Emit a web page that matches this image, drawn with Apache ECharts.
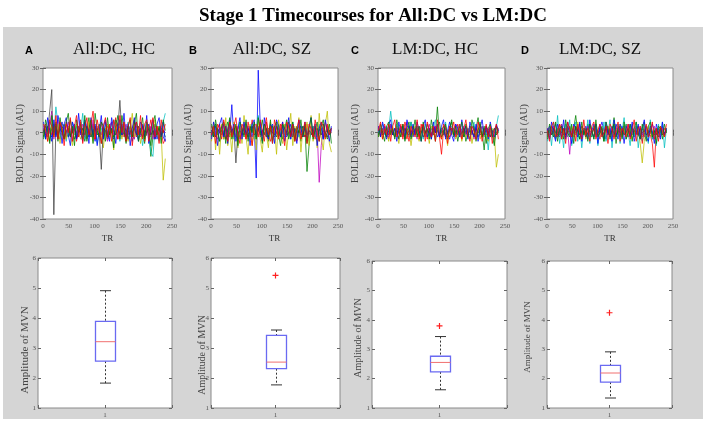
<!DOCTYPE html>
<html><head><meta charset="utf-8">
<script src="https://cdn.jsdelivr.net/npm/echarts@6/dist/echarts.min.js"></script>
<style>html,body{margin:0;padding:0;background:#fff}#c{width:708px;height:423px}</style>
</head><body><div id="c"></div>
<script>
// ---- data ----
const tr = [1,5,9,13,17,21,25,29,33,37,41,45,49,53,57,61,65,69,73,77,81,85,89,93,97,101,105,109,113,117,121,125,129,133,137,141,145,149,153,157,161,165,169,173,177,181,185,189,193,197,201,205,209,213,217,221,225,229,233,237];
const trTicks = [0,50,100,150,200,250];

const tcA = [
 [2,-1,3,0,-2,4,1,-3,2,5,-1,0,3,-2,1,4,-3,0,2,-1,5,1,-2,3,0,-4,2,1,-1,3,6,-2,0,2,-3,1,4,-1,2,0,-2,3,1,-4,2,5,0,-1,3,-2,1,4,-1,0,2,-3,1,3,-2,-4],
 [-2,3,1,-4,2,0,5,-1,-3,2,4,0,-2,6,1,-3,0,3,-1,2,-4,1,7,-2,0,3,-1,4,-5,1,2,-3,0,5,-2,1,8,3,-1,2,-4,0,3,-2,6,1,-3,2,0,-5,3,1,-11,-2,4,0,-3,2,1,-2],
 [1,4,-2,2,-1,3,0,-2,4,1,-3,5,2,-1,0,3,-4,2,6,0,-2,3,1,-1,4,-3,2,0,5,-2,1,3,-1,0,2,7,-3,1,4,-2,0,3,-1,2,5,-2,1,0,3,-4,2,1,6,-1,0,3,-2,1,-5,-3],
 [0,-3,2,5,3,-1,12,4,-2,1,3,-4,2,0,5,-1,3,-2,1,9,-3,2,0,4,-1,3,-5,1,2,-2,4,0,-3,1,6,-1,2,-4,3,0,2,5,-2,1,-3,4,0,2,-6,1,3,-1,-9,-11,2,0,-4,3,5,9],
 [3,0,-2,4,10,-3,2,6,0,-1,3,-2,5,1,-4,2,0,3,-1,4,2,-3,1,0,6,-2,3,1,-1,2,0,-4,3,5,-1,2,0,3,-2,1,4,-1,2,0,-3,3,1,-2,4,0,2,-1,3,-3,1,0,2,-2,1,0],
 [-1,2,-4,1,3,-2,0,4,-5,2,1,-3,3,-1,-6,2,4,0,-3,1,3,-2,5,0,-4,2,-1,3,0,-7,2,4,-2,1,-8,3,0,2,-3,5,1,-4,2,9,-2,0,3,-5,1,-3,4,0,-2,2,6,-1,3,0,-22,-12],
 [1,-2,0,10,20,-38,3,-1,2,0,-3,1,2,-1,0,3,-2,1,0,2,-1,3,0,-2,1,2,-1,0,-17,2,1,-2,3,0,1,-1,2,15,-1,0,2,-3,1,0,2,-1,3,0,-2,1,0,2,-1,1,-3,0,2,-1,1,0],
 [5,-3,7,1,-4,6,-2,8,3,-5,4,7,-1,-6,5,2,-3,9,0,-4,6,3,-5,7,-2,4,-6,1,8,-3,5,0,-4,7,2,-5,3,6,-1,9,-3,4,-6,2,7,0,-4,5,3,-2,8,-5,1,6,-3,4,7,-2,5,-4],
 [-3,6,2,-5,8,-1,4,-4,7,1,-3,5,9,-2,3,-6,6,0,4,-3,8,-4,2,6,-5,9,1,-2,5,3,-4,7,-1,2,-7,6,4,-3,8,1,-5,3,6,-2,4,9,-4,1,7,-3,5,2,-6,4,8,-1,3,-5,6,1],
 [4,1,-4,6,3,-2,8,-3,5,2,-6,4,0,7,-4,3,8,-2,5,-5,2,7,-1,4,10,-3,6,1,-5,3,7,-2,4,-4,6,2,-3,8,0,5,-4,3,7,-6,2,5,-1,8,-3,4,6,-4,2,7,-2,3,-5,6,0,4]
];
const tcB = [
 [1,-2,3,0,2,-1,4,-3,1,0,13,-2,2,1,-3,0,3,-1,2,0,-2,4,-21,29,3,-1,2,0,-3,1,4,-2,0,2,-1,3,1,-2,0,4,-1,2,-3,1,0,3,-2,2,1,-1,0,3,-2,1,2,-3,0,1,-1,2],
 [-2,1,4,-1,0,3,-3,2,5,-2,1,0,3,-4,2,1,-1,4,0,-2,3,1,-3,2,0,6,-1,2,-4,1,3,0,-2,4,1,-3,2,0,5,-1,2,-3,1,0,-4,3,2,-18,-6,1,3,0,-2,2,-1,4,0,-3,1,2],
 [3,0,-2,2,4,-1,1,-3,0,5,2,-1,3,0,-2,1,4,-3,2,0,6,-1,1,3,-2,0,2,7,-1,-4,1,3,0,-2,2,5,-1,0,3,-2,1,2,-4,0,3,1,-2,4,0,-1,2,-3,1,3,0,-2,5,1,-1,0],
 [0,3,-1,2,-4,1,0,4,-2,3,1,-3,0,2,5,-1,3,0,-2,1,4,-3,2,8,0,-1,3,-2,1,0,-5,2,4,-1,0,3,-2,1,2,-3,5,0,1,-2,3,0,-1,2,-4,1,3,0,-2,4,1,-3,0,2,-1,1],
 [-1,2,0,-3,1,3,-2,0,2,4,-1,1,-2,3,0,-1,2,5,-3,0,1,2,-1,3,-2,0,4,1,-3,2,0,-1,3,2,-2,0,1,4,-1,2,0,-3,1,3,0,-2,2,1,-1,3,0,-2,1,-23,-6,2,0,3,-1,1],
 [-4,5,-8,2,-10,4,-3,7,-6,1,-9,5,0,-7,3,-5,8,-2,-10,4,-6,2,-8,6,-3,-9,3,-1,-7,5,-4,2,-10,6,-2,-5,4,-8,1,9,-6,3,-3,7,-9,2,-1,5,-6,8,-4,3,-7,9,-2,-8,4,10,-5,-9],
 [1,0,-2,2,0,1,-1,3,-2,0,1,2,-14,0,1,-1,2,0,-2,1,3,-1,0,2,-1,1,0,-2,2,1,0,-1,3,0,-2,1,2,-1,0,1,-2,2,0,1,-1,0,2,-1,1,0,-2,1,2,0,-1,1,0,-2,1,0],
 [-3,5,1,-6,4,7,-2,3,-5,6,0,4,-4,2,7,-3,5,-1,3,-6,4,6,-2,1,5,-4,7,0,-3,4,2,-5,6,3,-2,5,-4,1,7,-3,4,0,-5,6,2,-2,5,-4,3,7,-1,4,-6,2,5,-3,6,1,-4,3],
 [4,-2,6,0,-4,3,5,-5,2,7,-3,1,4,-6,5,2,-2,6,-4,3,0,5,-3,7,1,-5,4,2,-2,6,-4,3,5,-1,-6,4,2,6,-3,1,5,-4,3,0,6,-2,4,-5,2,7,-3,1,5,-4,3,6,-2,0,4,-5],
 [-1,3,-5,4,2,-3,6,1,-4,5,-2,3,7,-1,-5,4,2,-3,5,0,-6,3,4,-2,6,1,-4,5,-1,3,-5,6,2,-3,4,0,-6,5,3,-2,4,-4,2,6,-3,1,5,-5,4,2,-2,6,0,-4,5,3,-3,4,-1,2]
];
const tcC = [
 [1,-1,2,0,-2,1,3,-1,0,2,-3,1,0,2,-1,3,0,-2,1,2,-1,0,4,-2,1,0,2,-1,3,-2,0,1,-1,2,0,-3,1,2,0,-1,3,1,-2,0,2,1,-1,3,0,-2,1,0,2,-1,0,1,-2,2,0,1],
 [-1,2,0,3,-2,1,4,-1,2,0,-3,3,1,-2,2,0,5,-1,1,3,-2,0,2,-1,4,1,-3,2,0,12,-2,1,3,-1,0,2,5,-2,1,0,3,-1,2,-4,0,3,1,-2,2,7,-1,0,-8,3,1,-2,0,2,-1,1],
 [3,-2,1,4,0,-3,2,1,-1,3,0,-2,4,1,-3,2,0,3,-1,2,-2,4,0,1,-3,2,0,-1,3,2,-2,-10,1,3,0,-2,2,1,-1,4,0,-3,2,1,-2,3,0,2,-1,1,4,-2,0,3,-1,2,1,-3,0,2],
 [0,2,4,-1,3,1,10,2,-2,4,1,-1,3,0,2,-2,5,1,-1,3,0,2,-3,4,1,0,-2,3,6,1,-1,2,0,5,-2,1,3,0,-1,2,4,-2,1,3,0,-1,2,5,-3,1,0,3,-2,1,-8,2,0,-5,3,8],
 [2,0,-1,3,1,-2,4,0,2,-1,1,3,-2,0,5,1,-1,2,0,-3,3,1,2,-1,0,4,-2,1,3,0,-1,2,1,-2,0,3,-1,2,4,0,-2,1,3,-1,0,2,1,-3,2,0,1,3,-1,0,2,-2,1,0,3,1],
 [-2,1,-3,2,0,-4,1,3,-2,0,-5,2,1,-3,0,2,-6,1,3,-1,-4,2,0,-2,1,-5,3,0,-2,2,-1,-3,1,0,-6,2,-1,1,-3,0,2,-4,1,-2,0,3,-5,1,-1,2,-3,0,1,-2,-4,0,2,-1,-16,-10],
 [0,1,-1,0,2,-1,1,0,-2,1,0,1,-1,2,0,-1,1,0,2,-1,0,1,-2,0,1,0,-1,2,0,1,-1,0,1,-2,0,1,2,-1,0,1,-1,0,2,0,-1,1,0,-1,2,0,1,-1,0,1,0,-2,1,0,-1,0],
 [3,-2,5,1,-3,4,6,-1,2,-4,5,0,3,-3,6,2,-2,4,-1,5,1,-4,3,6,-2,2,-3,5,0,4,-2,3,6,-3,1,5,-1,-4,4,2,-2,6,0,3,-3,5,1,-2,4,-4,2,6,-1,3,-3,5,0,-2,4,1],
 [-2,4,0,-4,3,5,-1,2,-3,6,1,-2,4,-4,2,5,-3,1,6,-2,3,-4,5,0,2,-3,6,1,-4,3,5,-2,0,4,-3,2,6,-1,3,-4,1,5,-2,4,0,-3,6,2,-4,1,5,-2,3,-5,2,4,-1,-6,3,0],
 [1,5,-3,2,-1,4,-4,3,6,-2,0,4,-3,5,1,-4,3,0,-2,6,-3,2,4,-4,5,1,-2,3,-4,6,0,-3,4,2,-5,3,1,5,-2,0,4,-3,2,6,-1,-4,3,1,-3,5,2,-4,0,4,-2,3,-5,1,4,-3]
];
const tcD = [
 [1,3,-1,2,4,0,-2,3,1,-1,5,2,0,-2,3,1,4,-1,2,0,3,-2,1,4,0,-1,2,5,1,-3,2,0,3,-1,4,1,-2,3,0,2,-1,4,1,-2,3,0,2,-1,1,3,-2,0,4,1,-1,2,0,3,-2,1],
 [-2,0,3,1,-3,2,-1,4,0,-2,1,3,-1,2,8,0,-3,1,2,-1,4,0,-2,3,1,-1,2,0,-4,3,1,-2,0,7,-1,2,0,-3,1,4,-2,0,2,-1,3,0,-2,1,5,-1,0,2,-3,1,0,-2,3,0,-1,2],
 [2,-1,1,3,0,-2,4,1,-1,2,0,3,-2,1,0,2,-1,3,1,-2,0,4,-1,2,0,1,-3,2,1,0,3,-1,2,-2,1,0,2,-1,3,1,-2,0,2,1,-1,3,0,-2,1,2,0,-1,-5,-16,2,0,1,-1,2,0],
 [-4,2,-6,5,-3,8,-5,1,-7,4,-2,6,-6,0,5,-4,3,-7,2,-1,6,-5,1,-3,4,-6,2,-2,5,-4,0,6,-7,3,-2,4,-5,1,7,-3,0,-6,4,-2,5,-7,1,-4,3,0,-5,6,-3,2,-6,4,-1,5,-7,2],
 [0,2,-1,3,1,-2,0,4,-1,2,1,-10,2,0,-1,3,1,-2,2,0,3,-1,1,2,-2,0,4,1,-1,3,0,-2,2,1,-1,3,0,2,-1,1,4,-2,0,2,1,-1,3,0,-2,1,2,0,-1,3,0,1,-2,2,0,1],
 [1,-2,3,0,-1,2,4,-3,1,0,2,-1,3,-2,0,5,1,-1,2,-3,0,3,1,-2,4,0,-1,2,-3,1,3,0,-2,2,1,-1,4,-2,0,3,-1,2,-3,1,0,2,-5,-14,-4,1,3,0,-2,2,1,-1,3,0,-2,1],
 [0,1,-1,2,0,-1,1,0,2,-1,0,1,-1,0,2,1,-1,0,1,-2,0,1,0,2,-1,0,1,-1,0,2,0,-1,1,0,-2,1,0,1,-1,0,2,0,-1,1,0,-1,2,0,1,-1,0,1,0,-1,1,0,2,-1,0,1],
 [2,-3,5,0,-4,4,1,-2,6,-3,3,0,-5,4,2,-2,5,-4,1,3,-3,6,0,-2,4,-5,3,1,-3,5,-1,2,-4,6,0,-3,4,2,-5,3,1,-2,5,-4,0,4,-3,2,6,-2,-4,3,1,-5,4,0,-3,5,-1,2],
 [-3,4,1,-2,5,-4,2,3,-3,6,0,-2,4,-5,3,1,-3,5,-1,2,-4,4,1,-3,6,-2,0,3,-4,5,2,-3,1,4,-5,2,3,-2,5,-3,0,4,-4,2,5,-1,-3,4,0,-4,3,5,-2,1,-5,3,2,-3,4,0],
 [1,-4,3,5,-2,0,4,-3,2,-5,5,1,-2,3,-4,4,0,-3,6,-1,2,-4,3,5,-3,1,4,-2,0,3,-5,4,2,-3,1,5,-4,2,0,-2,4,-3,1,6,-4,2,3,-5,1,4,-2,0,5,-3,2,-4,3,1,-2,4]
];
// box stats: [low whisker, Q1, median, Q3, high whisker]
const boxA = [1.83, 2.56, 3.21, 3.89, 4.91];
const boxB = [1.77, 2.31, 2.53, 3.42, 3.60];
const boxC = [1.62, 2.23, 2.55, 2.76, 3.43];
const boxD = [1.34, 1.88, 2.19, 2.45, 2.91];
const outA = [];
const outB = [5.42];
const outC = [3.79];
const outD = [4.24];
const letters = ['A','B','C','D'];
const subtitles = ['All:DC, HC','All:DC, SZ','LM:DC, HC','LM:DC, SZ'];
const mainTitle = 'Stage 1 Timecourses for All:DC vs LM:DC';

// ---- layout / style ----
const colors = ['#0000ff','#008000','#ff0000','#00bfbf','#bf00bf','#bfbf00','#404040'];
const lineGrids = [{left:43,width:129},{left:211,width:127},{left:378,width:127},{left:547,width:126}];
const boxGrids = [{left:38,top:258,width:134,height:150},{left:211,top:258,width:129,height:150},{left:372,top:261,width:135,height:147},{left:547,top:261,width:125,height:147}];
const letterX = [29,193,355,525];
const subX = [114,272,435,600];
const ampLabel = [{x:25,y:350,s:11},{x:202,y:355,s:10},{x:358,y:338,s:10},{x:528,y:337,s:9}];
const tcs = [tcA,tcB,tcC,tcD];
const boxes = [boxA,boxB,boxC,boxD];
const outs = [outA,outB,outC,outD];

const serif = 'Liberation Serif';
const tickStyle = {inside:true,length:3,lineStyle:{color:'#666'}};
const lblStyle = {fontSize:7,color:'#555',fontFamily:serif};

const grid=[], xAxis=[], yAxis=[], series=[];
function addAxes(gi, xo, yo, ym){
  xAxis.push(Object.assign({gridIndex:gi,type:'value',axisLine:{show:false},axisTick:tickStyle,axisLabel:Object.assign({margin:4},lblStyle),splitLine:{show:false}},xo));
  xAxis.push({gridIndex:gi,type:'value',position:'top',axisLine:{show:false},axisTick:tickStyle,axisLabel:{show:false},splitLine:{show:false},min:xo.min,max:xo.max,interval:xo.interval});
  yAxis.push(Object.assign({gridIndex:gi,type:'value',axisLine:{show:false},axisTick:tickStyle,axisLabel:Object.assign({margin:ym},lblStyle),splitLine:{show:false}},yo));
  yAxis.push({gridIndex:gi,type:'value',position:'right',axisLine:{show:false},axisTick:tickStyle,axisLabel:{show:false},splitLine:{show:false},min:yo.min,max:yo.max,interval:yo.interval});
}
function renderBox(params, api){
  const x = api.value(0);
  const p = i => api.coord([x, api.value(i)]);
  const lo=p(1), q1=p(2), md=p(3), q3=p(4), hi=p(5);
  const cx = Math.round(lo[0])+0.5, hw=10, cw=5.5;
  const dash = {stroke:'#333',lineWidth:1,lineDash:[2,2]};
  const blk = {stroke:'#333',lineWidth:1};
  return {type:'group',children:[
    {type:'line',shape:{x1:cx,y1:hi[1],x2:cx,y2:q3[1]},style:dash},
    {type:'line',shape:{x1:cx,y1:q1[1],x2:cx,y2:lo[1]},style:dash},
    {type:'line',shape:{x1:cx-cw,y1:hi[1],x2:cx+cw,y2:hi[1]},style:blk},
    {type:'line',shape:{x1:cx-cw,y1:lo[1],x2:cx+cw,y2:lo[1]},style:blk},
    {type:'rect',shape:{x:cx-hw,y:q3[1],width:2*hw,height:q1[1]-q3[1]},style:{fill:'#fff',stroke:'#6a6af2',lineWidth:1.3}},
    {type:'line',shape:{x1:cx-hw,y1:md[1],x2:cx+hw,y2:md[1]},style:{stroke:'#f07070',lineWidth:1}}
  ]};
}

for(let k=0;k<4;k++){
  const g = grid.length;
  grid.push({left:lineGrids[k].left,width:lineGrids[k].width,top:68,height:151,show:true,backgroundColor:'#fff',borderColor:'#8a8a8a',borderWidth:1});
  addAxes(g,{min:0,max:250,interval:50,name:'TR',nameLocation:'middle',nameGap:15,nameTextStyle:{fontFamily:serif,fontSize:9,color:'#333'}},
            {min:-40,max:30,interval:10,name:'BOLD Signal (AU)',nameLocation:'middle',nameGap:13,nameTextStyle:{fontFamily:serif,fontSize:10,color:'#444'}},4);
  tcs[k].forEach((vals,si)=>{
    series.push({type:'line',xAxisIndex:2*g,yAxisIndex:2*g,symbol:'none',silent:true,animation:false,
      lineStyle:{width:0.9,color:colors[si%colors.length],opacity:0.85},
      data: vals.map((v,i)=>[tr[i],v])});
  });
  const b = grid.length;
  const bg = boxGrids[k];
  grid.push({left:bg.left,width:bg.width,top:bg.top,height:bg.height,show:true,backgroundColor:'#fff',borderColor:'#8a8a8a',borderWidth:1});
  addAxes(b,{min:0.5,max:1.5,interval:0.5,axisLabel:Object.assign({margin:4,formatter:v=>v===1?'1':''},lblStyle)},
            {min:1,max:6,interval:1},2);
  series.push({type:'custom',xAxisIndex:2*b,yAxisIndex:2*b,renderItem:renderBox,animation:false,silent:true,z:3,
    encode:{x:0,y:[1,2,3,4,5]},data:[[1].concat(boxes[k])]});
  if(outs[k].length){
    series.push({type:'scatter',xAxisIndex:2*b,yAxisIndex:2*b,animation:false,silent:true,z:5,
      symbol:'path://M-1,-5H1V-1H5V1H1V5H-1V1H-5V-1H-1Z',symbolSize:6,itemStyle:{color:'#ff2020',opacity:1},
      data:outs[k].map(v=>[1,v])});
  }
}

const graphic = [
  {type:'rect',z:-100,silent:true,shape:{x:3,y:27,width:700,height:392},style:{fill:'#d5d5d5'}},
  {type:'text',x:373,y:16,style:{text:mainTitle,font:'bold 19px "Liberation Serif"',fill:'#000',align:'center',verticalAlign:'middle'}}
];
for(let k=0;k<4;k++){
  graphic.push({type:'text',x:letterX[k],y:51,style:{text:letters[k],font:'bold 11px "Liberation Sans"',fill:'#000',align:'center',verticalAlign:'middle'}});
  graphic.push({type:'text',x:subX[k],y:50,style:{text:subtitles[k],font:'17px "Liberation Serif"',fill:'#111',align:'center',verticalAlign:'middle'}});
  graphic.push({type:'text',x:ampLabel[k].x,y:ampLabel[k].y,rotation:Math.PI/2,style:{text:'Amplitude of MVN',font:ampLabel[k].s+'px "Liberation Serif"',fill:'#444',align:'center',verticalAlign:'middle'}});
}

const chart = echarts.init(document.getElementById('c'),null,{renderer:'canvas'});
chart.setOption({backgroundColor:'#fff',animation:false,grid,xAxis,yAxis,series,graphic});
</script></body></html>
